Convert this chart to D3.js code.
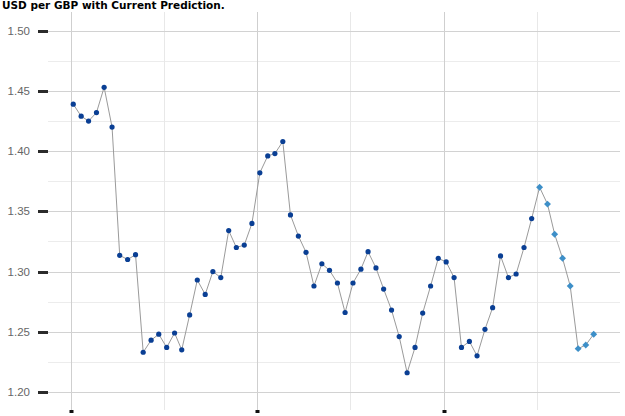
<!DOCTYPE html>
<html>
<head>
<meta charset="utf-8">
<script src="https://cdn.jsdelivr.net/npm/d3@7"></script>
<style>
html,body{margin:0;padding:0;background:#fff;}
svg{display:block;}
</style>
</head>
<body>
<svg id="chart" width="625" height="416"></svg>
<script>
// ---- data ----
const histMonths = ["2016-01","2016-02","2016-03","2016-04","2016-05","2016-06","2016-07","2016-08","2016-09","2016-10","2016-11","2016-12",
"2017-01","2017-02","2017-03","2017-04","2017-05","2017-06","2017-07","2017-08","2017-09","2017-10","2017-11","2017-12",
"2018-01","2018-02","2018-03","2018-04","2018-05","2018-06","2018-07","2018-08","2018-09","2018-10","2018-11","2018-12",
"2019-01","2019-02","2019-03","2019-04","2019-05","2019-06","2019-07","2019-08","2019-09","2019-10","2019-11","2019-12",
"2020-01","2020-02","2020-03","2020-04","2020-05","2020-06","2020-07","2020-08","2020-09","2020-10","2020-11","2020-12"];
const histValues = [1.439,1.429,1.425,1.432,1.453,1.420,1.3135,1.310,1.314,1.233,1.243,1.248,
1.237,1.249,1.235,1.264,1.293,1.281,1.300,1.295,1.334,1.320,1.322,1.340,
1.382,1.396,1.398,1.408,1.347,1.3295,1.316,1.288,1.3065,1.301,1.2905,1.266,
1.2905,1.302,1.3165,1.303,1.2855,1.268,1.246,1.216,1.237,1.2655,1.288,1.311,
1.308,1.295,1.237,1.242,1.230,1.252,1.270,1.313,1.295,1.298,1.320,1.344];
const predMonths = ["2021-01","2021-02","2021-03","2021-04","2021-05","2021-06","2021-07","2021-08"];
const predValues = [1.370,1.356,1.331,1.311,1.288,1.236,1.239,1.248];
const yTicks = [1.20,1.25,1.30,1.35,1.40,1.45,1.50];
const yMinor = [1.225,1.275,1.325,1.375,1.425,1.475];
const xMajorYears = [2016,2018,2020];
const xMinorYears = [2017,2019,2021];
const title = "USD per GBP with Current Prediction.";

// ---- setup ----
const svg = d3.select("#chart");
const parse = s => { const [y,m] = s.split("-").map(Number); return new Date(Date.UTC(y, m-1, 11)); };
const hist = histMonths.map((m,i)=>({date:parse(m), v:histValues[i]}));
const pred = predMonths.map((m,i)=>({date:parse(m), v:predValues[i]}));
const all = hist.concat(pred);

const x = d3.scaleUtc()
  .domain([new Date(Date.UTC(2016,0,1)), new Date(Date.UTC(2022,0,1))])
  .range([70.7, 630.2]);
const y = d3.scaleLinear().domain([1.2,1.5]).range([392,30.7]);

const gridLeft = 48, gridRight = 620, vTop = 12, vBottom = 410;

// minor horizontal grid
svg.append("g").selectAll("line").data(yMinor).join("line")
  .attr("x1", gridLeft).attr("x2", gridRight)
  .attr("y1", d=>Math.round(y(d))+0.5).attr("y2", d=>Math.round(y(d))+0.5)
  .attr("stroke", "#ececec").attr("stroke-width", 1);

// vertical grid
svg.append("g").selectAll("line").data(xMinorYears).join("line")
  .attr("x1", d=>Math.round(x(new Date(Date.UTC(d,0,1))))+0.5)
  .attr("x2", d=>Math.round(x(new Date(Date.UTC(d,0,1))))+0.5)
  .attr("y1", vTop).attr("y2", vBottom)
  .attr("stroke", "#e8e8e8").attr("stroke-width", 1);
svg.append("g").selectAll("line").data(xMajorYears).join("line")
  .attr("x1", d=>Math.round(x(new Date(Date.UTC(d,0,1))))+0.5)
  .attr("x2", d=>Math.round(x(new Date(Date.UTC(d,0,1))))+0.5)
  .attr("y1", vTop).attr("y2", vBottom)
  .attr("stroke", "#cfcfcf").attr("stroke-width", 1);

// major horizontal grid
svg.append("g").selectAll("line").data(yTicks).join("line")
  .attr("x1", gridLeft).attr("x2", gridRight)
  .attr("y1", d=>Math.round(y(d))+0.5).attr("y2", d=>Math.round(y(d))+0.5)
  .attr("stroke", "#d2d2d2").attr("stroke-width", 1.2);

// y ticks and labels
const yAxis = svg.append("g");
yAxis.selectAll("rect").data(yTicks).join("rect")
  .attr("x", 38).attr("y", d=>Math.round(y(d))-1).attr("width", 10).attr("height", 3)
  .attr("fill", "#2b2b2b");
yAxis.selectAll("text").data(yTicks).join("text")
  .attr("x", 30).attr("y", d=>y(d)).attr("dy", "0.36em")
  .attr("text-anchor", "end")
  .attr("font-family", "'Liberation Sans', Arial, sans-serif")
  .attr("font-size", 11.5).attr("fill", "#666")
  .text(d=>d3.format(".2f")(d));

// x tick squares
svg.append("g").selectAll("rect").data(xMajorYears).join("rect")
  .attr("x", d=>Math.round(x(new Date(Date.UTC(d,0,1))))-1.5)
  .attr("y", 410).attr("width", 4).attr("height", 3)
  .attr("fill", "#111");

// line
svg.append("path").datum(all)
  .attr("d", d3.line().x(d=>x(d.date)).y(d=>y(d.v)))
  .attr("fill", "none").attr("stroke", "#9a9a9a").attr("stroke-width", 1);

// history points
svg.append("g").selectAll("circle").data(hist).join("circle")
  .attr("cx", d=>x(d.date)).attr("cy", d=>y(d.v)).attr("r", 2.6)
  .attr("fill", "#0a3f94");

// prediction points
const diamond = d3.symbol(d3.symbolSquare, 24);
svg.append("g").selectAll("path").data(pred).join("path")
  .attr("d", diamond)
  .attr("transform", d=>`translate(${x(d.date)},${y(d.v)}) rotate(45)`)
  .attr("fill", "#3d8fc8");

// title
svg.append("text")
  .attr("x", 2).attr("y", 9)
  .attr("font-family", "'DejaVu Sans', Verdana, sans-serif")
  .attr("font-weight", "bold").attr("font-size", 10.5).attr("fill", "#000")
  .text(title);
</script>
</body>
</html>
